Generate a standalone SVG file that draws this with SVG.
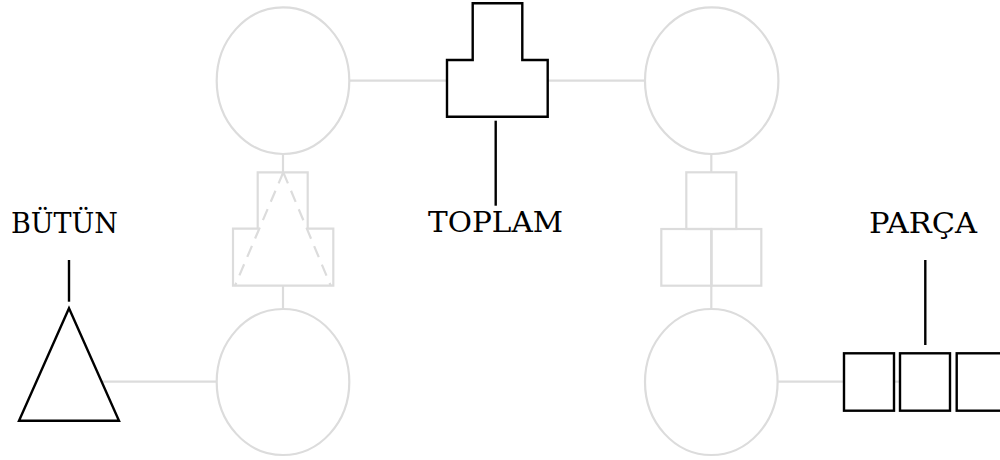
<svg xmlns="http://www.w3.org/2000/svg" width="1000" height="460" viewBox="0 0 1000 460">
<style>
.g{fill:none;stroke:#dcdcdc;stroke-width:2.2}
.gf{fill:#fff;stroke:#dcdcdc;stroke-width:2.2}
.k{fill:#fff;stroke:#000;stroke-width:2.4}
.kl{fill:none;stroke:#000;stroke-width:2.4}
.t{font-family:"DejaVu Serif","Liberation Serif",serif;font-size:28px;fill:#000}
</style>
<rect width="1000" height="460" fill="#fff"/>
<g id="connectors">
<line class="g" x1="349" y1="80.7" x2="447" y2="80.7"/>
<line class="g" x1="548" y1="80.7" x2="645" y2="80.7"/>
<line class="g" x1="283" y1="154" x2="283" y2="172.3"/>
<line class="g" x1="283" y1="285.7" x2="283" y2="309"/>
<line class="g" x1="711.3" y1="154" x2="711.3" y2="172.3"/>
<line class="g" x1="711.3" y1="229" x2="711.3" y2="309"/>
<line class="g" x1="100" y1="381.7" x2="217" y2="381.7"/>
<line class="g" x1="778" y1="381.7" x2="925" y2="381.7"/>
<line class="kl" x1="495.7" y1="120.7" x2="495.7" y2="205.7"/>
<line class="kl" x1="69" y1="260" x2="69" y2="301.7"/>
<line class="kl" x1="925.3" y1="260" x2="925.3" y2="345"/>
</g>
<g id="ellipse-tl"><ellipse class="gf" cx="283" cy="80.7" rx="66.3" ry="73.3"/></g>
<g id="ellipse-tr"><ellipse class="gf" cx="711.7" cy="80.7" rx="66.7" ry="73.3"/></g>
<g id="ellipse-bl"><ellipse class="gf" cx="283" cy="382" rx="66.3" ry="73"/></g>
<g id="ellipse-br"><ellipse class="gf" cx="711.3" cy="382" rx="66.3" ry="73"/></g>
<g id="left-mid">
<path class="g" d="M257.7,228.7 V172.3 H307.7 V228.7 H333.3 V285.7 H233 V228.7 Z"/>
<path class="g" d="M283.3,172.3 L330.7,285.7 M283.3,172.3 L235,285.7" stroke-dasharray="12,8"/>
</g>
<g id="right-mid">
<rect class="g" x="686.3" y="172.3" width="50" height="56.7"/>
<rect class="g" x="661.3" y="229" width="50" height="56.7"/>
<rect class="g" x="711.3" y="229" width="50" height="56.7"/>
</g>
<g id="toplam">
<path class="k" d="M472.7,60 V3.3 H522.3 V60 H547.7 V116.7 H447 V60 Z"/>
<text class="t" x="428" y="232" textLength="135" lengthAdjust="spacingAndGlyphs">TOPLAM</text>
</g>
<g id="butun">
<path class="k" d="M69,308.3 L119,420.7 L19,420.7 Z"/>
<text class="t" x="11" y="233" textLength="107" lengthAdjust="spacingAndGlyphs">BÜTÜN</text>
</g>
<g id="parca">
<rect class="k" x="844" y="353.3" width="50" height="57.4"/>
<rect class="k" x="900" y="353.3" width="50" height="57.4"/>
<rect class="k" x="956.7" y="353.3" width="50" height="57.4"/>
<text class="t" x="869" y="233" textLength="108" lengthAdjust="spacingAndGlyphs">PARÇA</text>
</g>
</svg>
